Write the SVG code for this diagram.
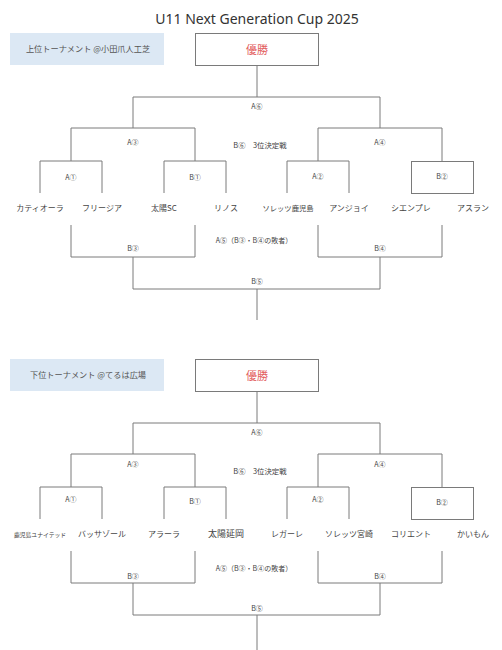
<svg xmlns="http://www.w3.org/2000/svg" width="502" height="650" viewBox="0 0 502 650">
<style>
.ln{fill:none;stroke:#7a7a7a;stroke-width:1}
.box{fill:#fff;stroke:#7a7a7a;stroke-width:1}
.tag{fill:#dce8f4}
.t{font-family:"Noto Sans CJK JP","Noto Sans",sans-serif;fill:#444;text-anchor:middle}
.lb{font-size:7px}
.tm{font-size:8px}
.tg{font-size:8.2px;fill:#555}
.win{font-size:11px;fill:#e25c5c}
.title{font-family:"Noto Sans","Liberation Sans",sans-serif;font-size:14px;fill:#333;text-anchor:middle}
</style>
<rect width="502" height="650" fill="#fff"/>
<text id="title" class="title" x="257" y="24">U11 Next Generation Cup 2025</text>

<g id="upper">
<g id="connectors-upper">
<path class="ln" d="M257,65V97M133,128V97H380V128M71,161V128H195V161M318,161V128H442V161M40,193V161H102V193M164,193V161H226V193M287,193V161H349V193M71,225V257H195V225M133,257V289H380V257M318,225V257H442V225M257,289V320"/>
</g>
<g id="u-tag"><rect class="tag" x="10" y="33" width="154" height="32"/><text class="t tg" x="88" y="52">上位トーナメント @小田爪人工芝</text></g>
<g id="u-win"><rect class="box" x="195.5" y="33.5" width="123" height="32"/><text class="t win" x="257" y="54">優勝</text></g>
<g id="u-B2"><rect class="box" x="411.5" y="161.5" width="62" height="32"/><text class="t lb" x="442" y="179">B②</text></g>
<g id="u-labels">
<text class="t lb" x="257" y="109">A⑥</text>
<text class="t lb" x="133" y="145">A③</text>
<text class="t lb" x="380" y="145">A④</text>
<text class="t lb" x="260" y="148" style="font-size:7.4px">B⑥　3位決定戦</text>
<text class="t lb" x="71" y="180">A①</text>
<text class="t lb" x="195" y="180">B①</text>
<text class="t lb" x="318" y="179">A②</text>
<text class="t lb" x="254" y="243">A⑤（B③・B④の敗者）</text>
<text class="t lb" x="133" y="251">B③</text>
<text class="t lb" x="380" y="251">B④</text>
<text class="t lb" x="257" y="284">B⑤</text>
</g>
<g id="u-teams">
<text class="t tm" x="40" y="211">カティオーラ</text>
<text class="t tm" x="102" y="211">フリージア</text>
<text class="t tm" x="164" y="211">太陽SC</text>
<text class="t tm" x="226" y="211">リノス</text>
<text class="t tm" x="288" y="211" style="font-size:7.3px">ソレッツ鹿児島</text>
<text class="t tm" x="349" y="211">アンジョイ</text>
<text class="t tm" x="411" y="211">シエンプレ</text>
<text class="t tm" x="473" y="211">アスラン</text>
</g>
</g>

<g id="lower" transform="translate(0,326)">
<g id="connectors-lower">
<path class="ln" d="M257,65V97M133,128V97H380V128M71,161V128H195V161M318,161V128H442V161M40,193V161H102V193M164,193V161H226V193M287,193V161H349V193M71,225V257H195V225M133,257V289H380V257M318,225V257H442V225M257,289V324"/>
</g>
<g id="l-tag"><rect class="tag" x="10" y="33" width="154" height="32"/><text class="t tg" x="88" y="52">下位トーナメント @てるは広場</text></g>
<g id="l-win"><rect class="box" x="195.5" y="33.5" width="123" height="32"/><text class="t win" x="257" y="54">優勝</text></g>
<g id="l-B2"><rect class="box" x="411.5" y="161.5" width="62" height="32"/><text class="t lb" x="442" y="179">B②</text></g>
<g id="l-labels">
<text class="t lb" x="257" y="109">A⑥</text>
<text class="t lb" x="133" y="141">A③</text>
<text class="t lb" x="380" y="141">A④</text>
<text class="t lb" x="260" y="148" style="font-size:7.4px">B⑥　3位決定戦</text>
<text class="t lb" x="71" y="176">A①</text>
<text class="t lb" x="195" y="178">B①</text>
<text class="t lb" x="318" y="176">A②</text>
<text class="t lb" x="254" y="245">A⑤（B③・B④の敗者）</text>
<text class="t lb" x="133" y="253">B③</text>
<text class="t lb" x="380" y="253">B④</text>
<text class="t lb" x="257" y="285">B⑤</text>
</g>
<g id="l-teams">
<text class="t tm" x="40" y="211" style="font-size:5.8px">鹿児島ユナイテッド</text>
<text class="t tm" x="102" y="211">バッサゾール</text>
<text class="t tm" x="164" y="211">アラーラ</text>
<text class="t tm" x="226" y="211" style="font-size:9px">太陽延岡</text>
<text class="t tm" x="287" y="211">レガーレ</text>
<text class="t tm" x="349" y="211">ソレッツ宮崎</text>
<text class="t tm" x="411" y="211">コリエント</text>
<text class="t tm" x="473" y="211">かいもん</text>
</g>
</g>
</svg>
